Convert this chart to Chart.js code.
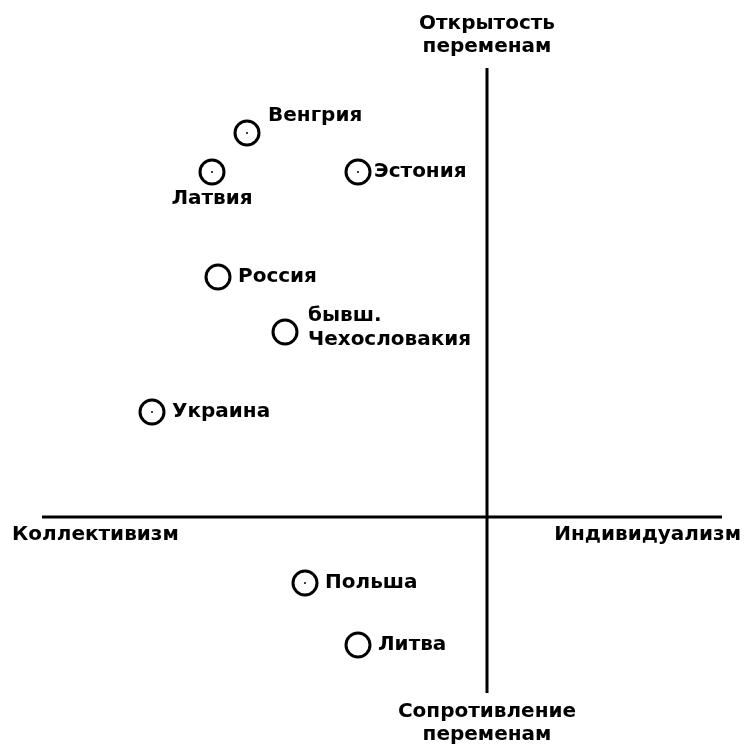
<!DOCTYPE html>
<html>
<head>
<meta charset="utf-8">
<script src="https://cdn.jsdelivr.net/npm/chart.js@4"></script>
<style>
  html, body { margin: 0; padding: 0; background: #fff; }
  #wrap { width: 744px; height: 747px; }
</style>
</head>
<body>
<div id="wrap"><canvas id="mapChart" width="744" height="747"></canvas></div>
<script>
// Страны и их положение (коллективизм/индивидуализм, сопротивление/открытость)
var countries = ['Венгрия', 'Латвия', 'Эстония', 'Россия', 'бывш.\nЧехословакия', 'Украина', 'Польша', 'Литва'];
var individualism = [-2.40, -2.75, -1.29, -2.69, -2.02, -3.35, -1.82, -1.29];
var openness = [3.84, 3.45, 3.45, 2.40, 1.85, 1.05, -0.66, -1.28];

// Подписи осей
var axisLeft = 'Коллективизм';
var axisRight = 'Индивидуализм';
var axisTop = ['Открытость', 'переменам'];
var axisBottom = ['Сопротивление', 'переменам'];

var FONT = 'bold 20px "DejaVu Sans", sans-serif';

// где стоит подпись относительно кружка
var labelSide = { 'Латвия': 'below', 'Венгрия': 'upright', 'Эстония': 'near' };
var withDot = ['Венгрия', 'Латвия', 'Эстония', 'Украина', 'Польша'];

var points = countries.map(function (c, i) {
    return { x: individualism[i], y: openness[i], name: c };
});

// Плагин: оси через ноль и подписи
var crossAxes = {
    id: 'crossAxes',
    afterDatasetsDraw: function (chart) {
        var ctx = chart.ctx;
        var xs = chart.scales.x, ys = chart.scales.y;
        var area = chart.chartArea;
        var x0 = xs.getPixelForValue(0), y0 = ys.getPixelForValue(0);

        ctx.save();
        ctx.strokeStyle = '#000';
        ctx.lineWidth = 3;
        ctx.beginPath();
        ctx.moveTo(area.left, y0);
        ctx.lineTo(area.right, y0);
        ctx.moveTo(x0, area.top);
        ctx.lineTo(x0, area.bottom);
        ctx.stroke();

        ctx.fillStyle = '#000';
        ctx.font = FONT;
        ctx.textBaseline = 'middle';
        ctx.textAlign = 'left';
        ctx.fillText(axisLeft, 12, y0 + 18);
        ctx.textAlign = 'right';
        ctx.fillText(axisRight, 741, y0 + 18);
        ctx.textAlign = 'center';
        ctx.fillText(axisTop[0], x0, 24);
        ctx.fillText(axisTop[1], x0, 47);
        ctx.fillText(axisBottom[0], x0, area.bottom + 19);
        ctx.fillText(axisBottom[1], x0, area.bottom + 42);

        // подписи стран
        var meta = chart.getDatasetMeta(0);
        meta.data.forEach(function (el, i) {
            var name = points[i].name;
            var px = el.x, py = el.y;
            var lines = name.split('\n');
            var side = labelSide[name];
            if (withDot.indexOf(name) >= 0) {
                ctx.beginPath();
                ctx.arc(px, py, 1, 0, Math.PI * 2);
                ctx.fill();
            }
            if (side === 'below') {
                ctx.textAlign = 'center';
                ctx.fillText(lines[0], px, py + 27);
            } else if (side === 'upright') {
                ctx.textAlign = 'left';
                ctx.fillText(lines[0], px + 21, py - 17);
            } else if (side === 'near') {
                ctx.textAlign = 'left';
                ctx.fillText(lines[0], px + 16, py);
            } else if (lines.length > 1) {
                ctx.textAlign = 'left';
                ctx.fillText(lines[0], px + 23, py - 16);
                ctx.fillText(lines[1], px + 23, py + 8);
            } else {
                ctx.textAlign = 'left';
                ctx.fillText(lines[0], px + 20, py);
            }
        });
        ctx.restore();
    }
};

new Chart(document.getElementById('mapChart').getContext('2d'), {
    type: 'scatter',
    data: {
        datasets: [{
            data: points,
            pointRadius: 12,
            pointHoverRadius: 12,
            pointBorderWidth: 3,
            pointBorderColor: '#000',
            pointBackgroundColor: 'rgba(255,255,255,0)'
        }]
    },
    options: {
        responsive: false,
        animation: false,
        layout: { padding: { left: 42, right: 22, top: 68, bottom: 54 } },
        plugins: {
            legend: { display: false },
            tooltip: { enabled: false }
        },
        scales: {
            x: { type: 'linear', min: -4.45, max: 2.35, display: false },
            y: { type: 'linear', min: -1.76, max: 4.49, display: false }
        }
    },
    plugins: [crossAxes]
});
</script>
</body>
</html>
